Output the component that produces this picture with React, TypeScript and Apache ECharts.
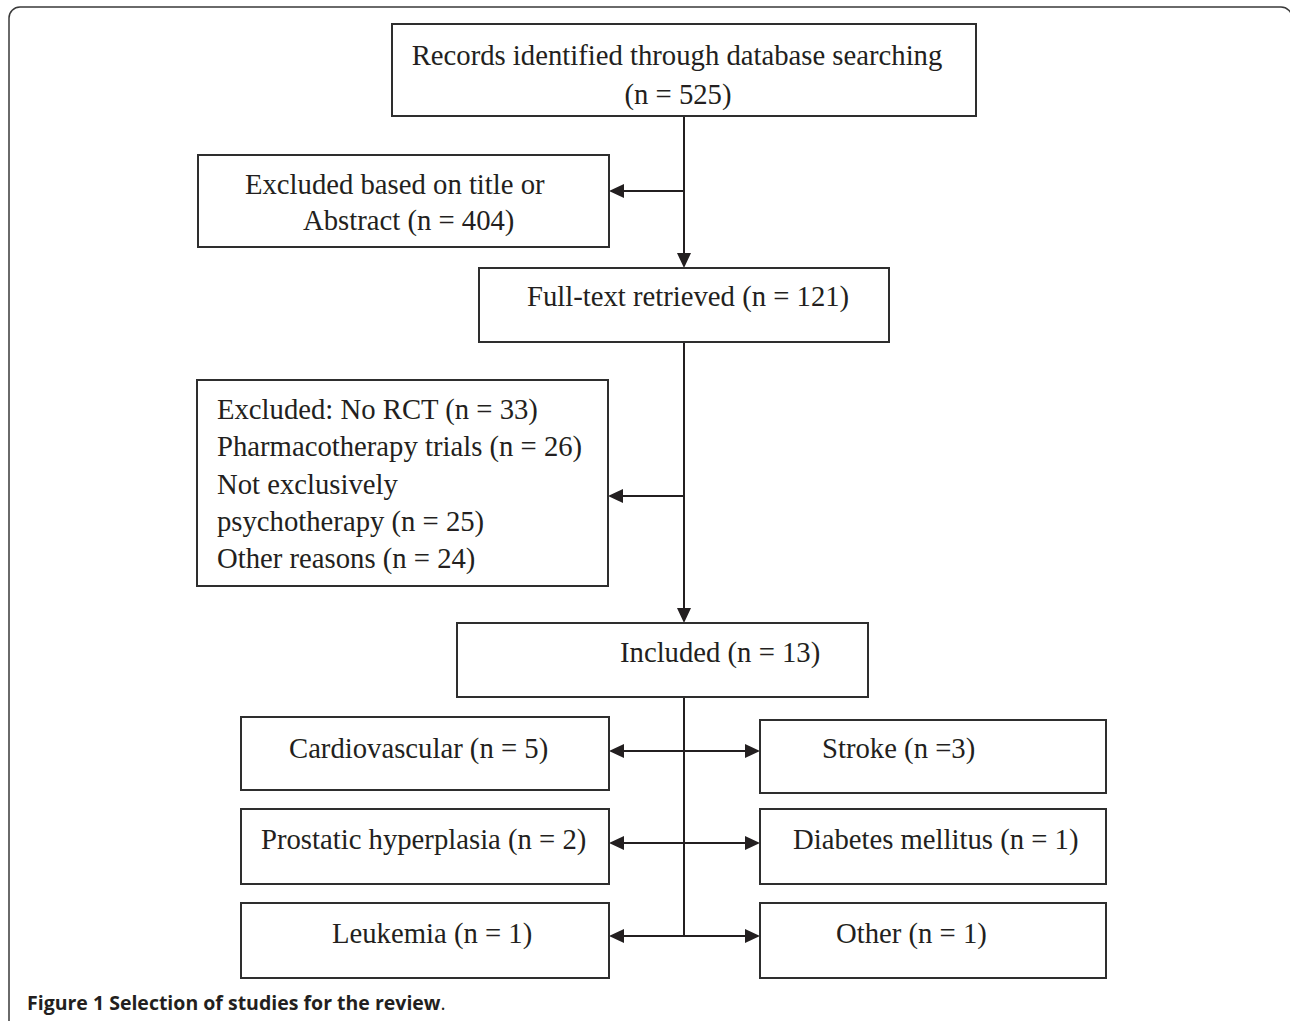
import React, { useEffect, useRef } from "react";
import * as echarts from "echarts";

// ---- Data ----
const stageLabels = [
  "Records identified through database searching",
  "Excluded based on title or",
  "Full-text retrieved",
  "Included",
];
const stageCounts = [525, 404, 121, 13];

const exclusionReasons = [
  "Excluded: No RCT",
  "Pharmacotherapy trials",
  "Not exclusively",
  "psychotherapy",
  "Other reasons",
];
const exclusionCounts = [33, 26, null, 25, 24];

const leftCategories = ["Cardiovascular", "Prostatic hyperplasia", "Leukemia"];
const leftCounts = [5, 2, 1];
const rightCategories = ["Stroke", "Diabetes mellitus", "Other"];
const rightCounts = [3, 1, 1];

const captionBold = "Figure 1 Selection of studies for the review";
const captionTail = ".";

// ---- Layout (positions / styles) ----
const INK = "#231f20";
const BOX = "#2e2e2e";
const FONT = "Liberation Serif";
const FS = 29.5;
const SX = 0.973;
const MID = 10; // baseline -> central offset

const boxes = {
  A: [392, 24, 976, 116],
  B: [198, 155, 609, 247],
  C: [479, 268, 889, 342],
  D: [197, 380, 608, 586],
  E: [457, 623, 868, 697],
};
const leftBoxes = [
  [241, 717, 609, 790],
  [241, 809, 609, 884],
  [241, 903, 609, 978],
];
const rightBoxes = [
  [760, 720, 1106, 793],
  [760, 809, 1106, 884],
  [760, 903, 1106, 978],
];
const leftTextX = [289, 261, 332];
const rightTextX = [822, 793, 836];
const rowTextBase = [758, 849, 943];
const rowArrowY = [751, 843, 936];
const SPINE_X = 684;

function rectEl(b: number[]) {
  return {
    type: "rect",
    shape: { x: b[0], y: b[1], width: b[2] - b[0], height: b[3] - b[1] },
    style: { fill: "#fff", stroke: BOX, lineWidth: 2 },
  };
}
function lineEl(x1: number, y1: number, x2: number, y2: number) {
  return {
    type: "line",
    shape: { x1, y1, x2, y2 },
    style: { stroke: INK, lineWidth: 2 },
  };
}
function arrowHead(x: number, y: number, dir: "left" | "right" | "down") {
  const L = 15;
  const W = 7;
  let pts: number[][];
  if (dir === "left") pts = [[x, y], [x + L, y - W], [x + L, y + W]];
  else if (dir === "right") pts = [[x, y], [x - L, y - W], [x - L, y + W]];
  else pts = [[x, y], [x - W, y - L], [x + W, y - L]];
  return { type: "polygon", shape: { points: pts }, style: { fill: INK } };
}
function textEl(
  text: string,
  x: number,
  baseline: number,
  align: "left" | "center" = "left"
) {
  return {
    type: "text",
    x,
    y: baseline - MID,
    scaleX: SX,
    style: {
      text,
      fill: INK,
      fontFamily: FONT,
      fontSize: FS,
      align,
      verticalAlign: "middle",
    },
  };
}

export default function App() {
  const ref = useRef<HTMLDivElement>(null);
  useEffect(() => {
    document.body.style.margin = "0";
    if (!ref.current) return;
    const chart = echarts.init(ref.current, undefined, { renderer: "svg" });

    const els: any[] = [];
    // outer rounded frame (right and bottom edges run off the page)
    els.push({
      type: "rect",
      shape: { x: 9, y: 7, width: 1283, height: 1040, r: 11 },
      style: { fill: "#fff", stroke: "#3a3a3a", lineWidth: 1.5 },
    });

    // connector lines
    els.push(lineEl(SPINE_X, 116, SPINE_X, 256));
    els.push(arrowHead(SPINE_X, 268, "down"));
    els.push(lineEl(SPINE_X, 191, 620, 191));
    els.push(arrowHead(609, 191, "left"));
    els.push(lineEl(SPINE_X, 342, SPINE_X, 611));
    els.push(arrowHead(SPINE_X, 623, "down"));
    els.push(lineEl(SPINE_X, 496, 619, 496));
    els.push(arrowHead(608, 496, "left"));
    els.push(lineEl(SPINE_X, 697, SPINE_X, rowArrowY[2]));
    rowArrowY.forEach((y) => {
      els.push(lineEl(620, y, 749, y));
      els.push(arrowHead(609, y, "left"));
      els.push(arrowHead(760, y, "right"));
    });

    // boxes
    Object.values(boxes).forEach((b) => els.push(rectEl(b)));
    leftBoxes.forEach((b) => els.push(rectEl(b)));
    rightBoxes.forEach((b) => els.push(rectEl(b)));

    // texts
    els.push(textEl(stageLabels[0], 677, 65, "center"));
    els.push(textEl(`(n = ${stageCounts[0]})`, 678, 104, "center"));
    els.push(textEl(stageLabels[1], 245, 194));
    els.push(textEl(`Abstract (n = ${stageCounts[1]})`, 303, 230));
    els.push(textEl(`${stageLabels[2]} (n = ${stageCounts[2]})`, 527, 306));
    const dBase = [419, 456, 494, 531, 568];
    exclusionReasons.forEach((r, i) => {
      const c = exclusionCounts[i];
      els.push(textEl(c == null ? r : `${r} (n = ${c})`, 217, dBase[i]));
    });
    els.push(textEl(`${stageLabels[3]} (n = ${stageCounts[3]})`, 620, 662));
    leftCategories.forEach((c, i) => {
      els.push(textEl(`${c} (n = ${leftCounts[i]})`, leftTextX[i], rowTextBase[i]));
    });
    rightCategories.forEach((c, i) => {
      const t = i === 0 ? `${c} (n =${rightCounts[i]})` : `${c} (n = ${rightCounts[i]})`;
      els.push(textEl(t, rightTextX[i], rowTextBase[i]));
    });

    // caption
    els.push({
      type: "text",
      x: 27,
      y: 1002,
      style: {
        text: `{b|${captionBold}}{n|${captionTail}}`,
        verticalAlign: "middle",
        rich: {
          b: { fontFamily: "Open Sans", fontWeight: "bold", fontSize: 19.5, fill: INK },
          n: { fontFamily: "Open Sans", fontWeight: "normal", fontSize: 19.5, fill: INK },
        },
      },
    });

    chart.setOption({
      animation: false,
      backgroundColor: "#ffffff",
      graphic: { elements: els },
    });
    return () => chart.dispose();
  }, []);
  return (
    <div
      ref={ref}
      style={{ position: "fixed", left: 0, top: 0, width: 1290, height: 1021 }}
    />
  );
}
